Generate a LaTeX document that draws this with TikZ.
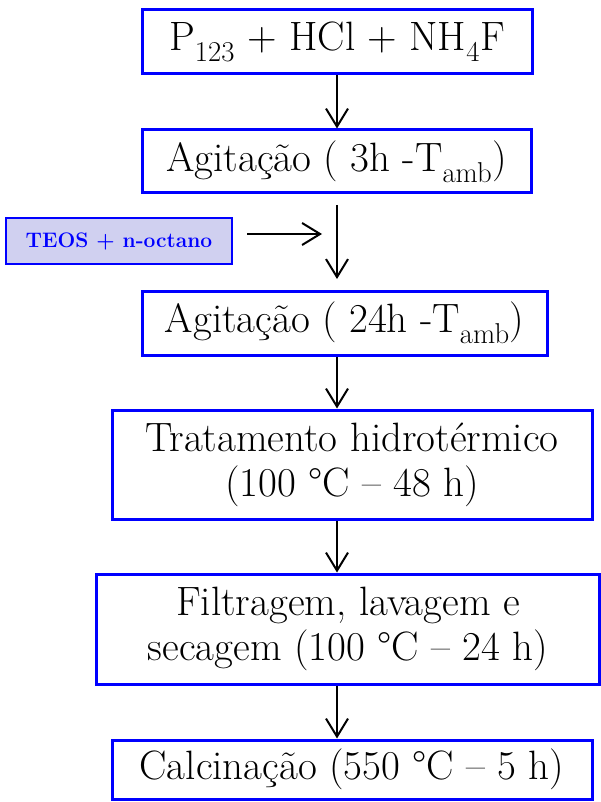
\documentclass[tikz,border=0pt]{standalone}
\usepackage{fontspec}
\usetikzlibrary{arrows.meta}
\definecolor{boxblue}{rgb}{0,0,1}
\definecolor{teosfill}{RGB}{208,208,240}
\begin{document}
\begin{tikzpicture}[x=1pt,y=-1pt,
  stepbox/.style={draw=boxblue,line width=3pt,fill=white,inner sep=0pt,align=center,
    font=\fontsize{41}{45}\selectfont},
  flow/.style={draw=black,line width=2pt,-{Straight Barb[length=18pt,width=22pt,line width=2pt]}}]
\useasboundingbox (0,0) rectangle (601,802);
\node[stepbox,minimum width=390pt,minimum height=64pt] (b1) at (337,42) {P\textsubscript{123} + HCl + NH\textsubscript{4}F};
\node[stepbox,minimum width=389pt,minimum height=63pt] (b2) at (336.5,161.5) {Agitação ( 3h -T\textsubscript{amb})};
\node[stepbox,minimum width=405pt,minimum height=64pt] (b3) at (344.5,323) {Agitação ( 24h -T\textsubscript{amb})};
\node[stepbox,minimum width=480pt,minimum height=109pt] (b4) at (352,464.5) {Tratamento hidrotérmico\\(100 °C – 48 h)};
\node[stepbox,minimum width=503pt,minimum height=110pt] (b5) at (348,629) {Filtragem, lavagem e\\secagem (100 °C – 24 h)};
\node[stepbox,minimum width=480pt,minimum height=59pt] (b6) at (352,769.5) {Calcinação (550 °C – 5 h)};
\node[draw=boxblue,line width=2pt,fill=teosfill,inner sep=0pt,minimum width=226pt,minimum height=46pt,
  text=boxblue,font=\fontsize{21}{24}\selectfont\bfseries] (teos) at (119,241) {TEOS + n-octano};
\coordinate (ax) at (337,0);
\coordinate (vs) at (337,205);
\coordinate (ve) at (337,279);
\coordinate (hs) at (247,234);
\coordinate (he) at (322,234);
\draw[flow] (b1.south -| ax) -- (b2.north -| ax);
\draw[flow] (vs) -- (ve);
\draw[flow] (hs) -- (he);
\draw[flow] (b3.south -| ax) -- (b4.north -| ax);
\draw[flow] (b4.south -| ax) -- (b5.north -| ax);
\draw[flow] (b5.south -| ax) -- (b6.north -| ax);
\end{tikzpicture}
\end{document}
